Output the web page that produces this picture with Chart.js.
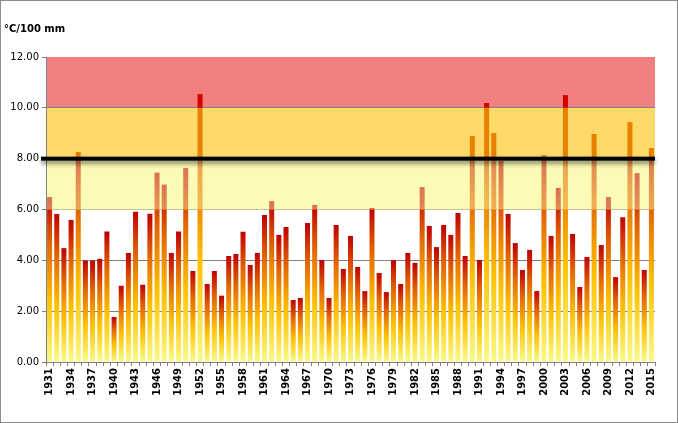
<!DOCTYPE html>
<html><head><meta charset="utf-8">
<script src="https://cdn.jsdelivr.net/npm/chart.js@4.4.0/dist/chart.umd.min.js"></script>
<style>
html,body{margin:0;padding:0;background:#fff;}
#wrap{position:relative;width:678px;height:423px;overflow:hidden;}
#frame{position:absolute;left:0;top:0;width:676px;height:421px;border:1px solid #8c8c8c;pointer-events:none;}
#unit{position:absolute;left:4px;top:23px;font:bold 10px "DejaVu Sans";color:#000;white-space:nowrap;}
canvas{position:absolute;left:0;top:0;}
</style></head><body>
<div id="wrap"><canvas id="c" width="678" height="423"></canvas><div id="unit">°C/100 mm</div><div id="frame"></div></div>
<script>
const years = [1931,1932,1933,1934,1935,1936,1937,1938,1939,1940,
1941,1942,1943,1944,1945,1946,1947,1948,1949,1950,
1951,1952,1953,1954,1955,1956,1957,1958,1959,1960,
1961,1962,1963,1964,1965,1966,1967,1968,1969,1970,
1971,1972,1973,1974,1975,1976,1977,1978,1979,1980,
1981,1982,1983,1984,1985,1986,1987,1988,1989,1990,
1991,1992,1993,1994,1995,1996,1997,1998,1999,2000,
2001,2002,2003,2004,2005,2006,2007,2008,2009,2010,
2011,2012,2013,2014,2015];
const values = [6.49,5.82,4.48,5.59,8.26,3.99,3.99,4.06,5.13,1.77,
3.00,4.29,5.91,3.04,5.83,7.45,6.98,4.29,5.13,7.63,
3.58,10.54,3.07,3.58,2.61,4.17,4.25,5.12,3.82,4.29,
5.78,6.33,5.00,5.31,2.44,2.52,5.47,6.18,4.01,2.52,
5.39,3.66,4.96,3.74,2.79,6.06,3.50,2.75,4.01,3.07,
4.29,3.90,6.88,5.35,4.52,5.39,5.00,5.86,4.17,8.89,
4.01,10.19,9.01,7.91,5.82,4.68,3.62,4.41,2.79,8.14,
4.96,6.85,10.50,5.04,2.95,4.13,8.97,4.60,6.49,3.34,
5.70,9.44,7.43,3.62,8.42];
const yTicks = [0,2,4,6,8,10,12];
const bandLimits = [6,8,10,12];
const threshold = 8;

const bandColors = ['#FBFBB5','#FDD96A','#F28080'];
const gradStops = [[0,[250,250,135]],[0.38,[255,192,0]],[0.72,[226,100,0]],[1,[192,0,0]]];
const wash = [251,251,181], washA = 0.45;
function rgb(c){return 'rgb('+c.map(Math.round).join(',')+')';}
function mix(c){return c.map((v,i)=>v*(1-washA)+wash[i]*washA);}

function barGradient(ctx, washed){
  const chart = ctx.chart;
  if(!chart.chartArea) return '#FFC000';
  const ys = chart.scales.y;
  const v = values[ctx.dataIndex];
  const y0 = ys.getPixelForValue(0), y1 = ys.getPixelForValue(v);
  const g = chart.ctx.createLinearGradient(0,y0,0,y1);
  gradStops.forEach(s=>g.addColorStop(s[0], rgb(washed?mix(s[1]):s[1])));
  return g;
}

const seg1 = values.map(v=>Math.min(v,bandLimits[0]));
const seg2 = values.map(v=>v>bandLimits[0]?Math.min(v,bandLimits[1])-bandLimits[0]:null);
const seg3 = values.map(v=>v>bandLimits[1]?Math.min(v,bandLimits[2])-bandLimits[1]:null);
const seg4 = values.map(v=>v>bandLimits[2]?v-bandLimits[2]:null);

const bandsPlugin = {
  id:'bands',
  beforeDraw(chart){
    const {ctx, chartArea:a, scales:{y}} = chart;
    ctx.save();
    for(let i=0;i<bandColors.length;i++){
      const top = y.getPixelForValue(bandLimits[i+1]);
      const bot = y.getPixelForValue(bandLimits[i]);
      ctx.fillStyle = bandColors[i];
      ctx.fillRect(a.left, top, a.right-a.left, bot-top);
    }
    ctx.restore();
  },
  afterDatasetsDraw(chart){
    const {ctx, chartArea:a, scales:{y}} = chart;
    const yy = y.getPixelForValue(threshold);
    ctx.save();
    ctx.shadowColor='rgba(0,0,0,0.5)';
    ctx.shadowBlur=4;
    ctx.shadowOffsetY=3;
    ctx.fillStyle='#000';
    ctx.fillRect(a.left-5, yy-2, a.right-a.left+5, 4);
    ctx.restore();
  }
};

const common = {categoryPercentage:1, barPercentage:0.7, borderWidth:0};
new Chart(document.getElementById('c'), {
  type:'bar',
  data:{labels:years, datasets:[
    Object.assign({data:seg1, backgroundColor:c=>barGradient(c,false)}, common),
    Object.assign({data:seg2, backgroundColor:c=>barGradient(c,true)}, common),
    Object.assign({data:seg3, backgroundColor:'#E98000'}, common),
    Object.assign({data:seg4, backgroundColor:'#D60000'}, common)
  ]},
  options:{
    responsive:false, animation:false, devicePixelRatio:1,
    layout:{padding:{left:0, top:57, right:23, bottom:0}},
    plugins:{legend:{display:false}, tooltip:{enabled:false}},
    scales:{
      x:{stacked:true, offset:true,
        grid:{offset:true, drawOnChartArea:false, drawTicks:true, tickLength:4, color:'#808080'},
        border:{color:'#808080'},
        ticks:{autoSkip:false, maxRotation:90, minRotation:90, padding:2, color:'#000',
          font:{family:'DejaVu Sans', size:10, weight:'bold'},
          callback:(v,i)=> i%3===0 ? String(years[i]) : ''},
        afterFit:s=>{s.height=61;}
      },
      y:{stacked:true, min:yTicks[0], max:yTicks[yTicks.length-1],
        afterBuildTicks:s=>{s.ticks = yTicks.map(v=>({value:v}));},
        ticks:{padding:3, color:'#000', font:{family:'DejaVu Sans', size:10},
          callback:v=>Number(v).toFixed(2)},
        grid:{tickLength:4, tickColor:'#808080',
          color:c=>{const v=c.tick?c.tick.value:null;
            if(v===12) return 'rgba(0,0,0,0)';
            if(v===6) return 'rgba(150,150,90,0.55)';
            return '#808080';}},
        border:{color:'#808080'},
        afterFit:s=>{s.width=46;}
      }
    }
  },
  plugins:[bandsPlugin]
});
</script>
</body></html>
